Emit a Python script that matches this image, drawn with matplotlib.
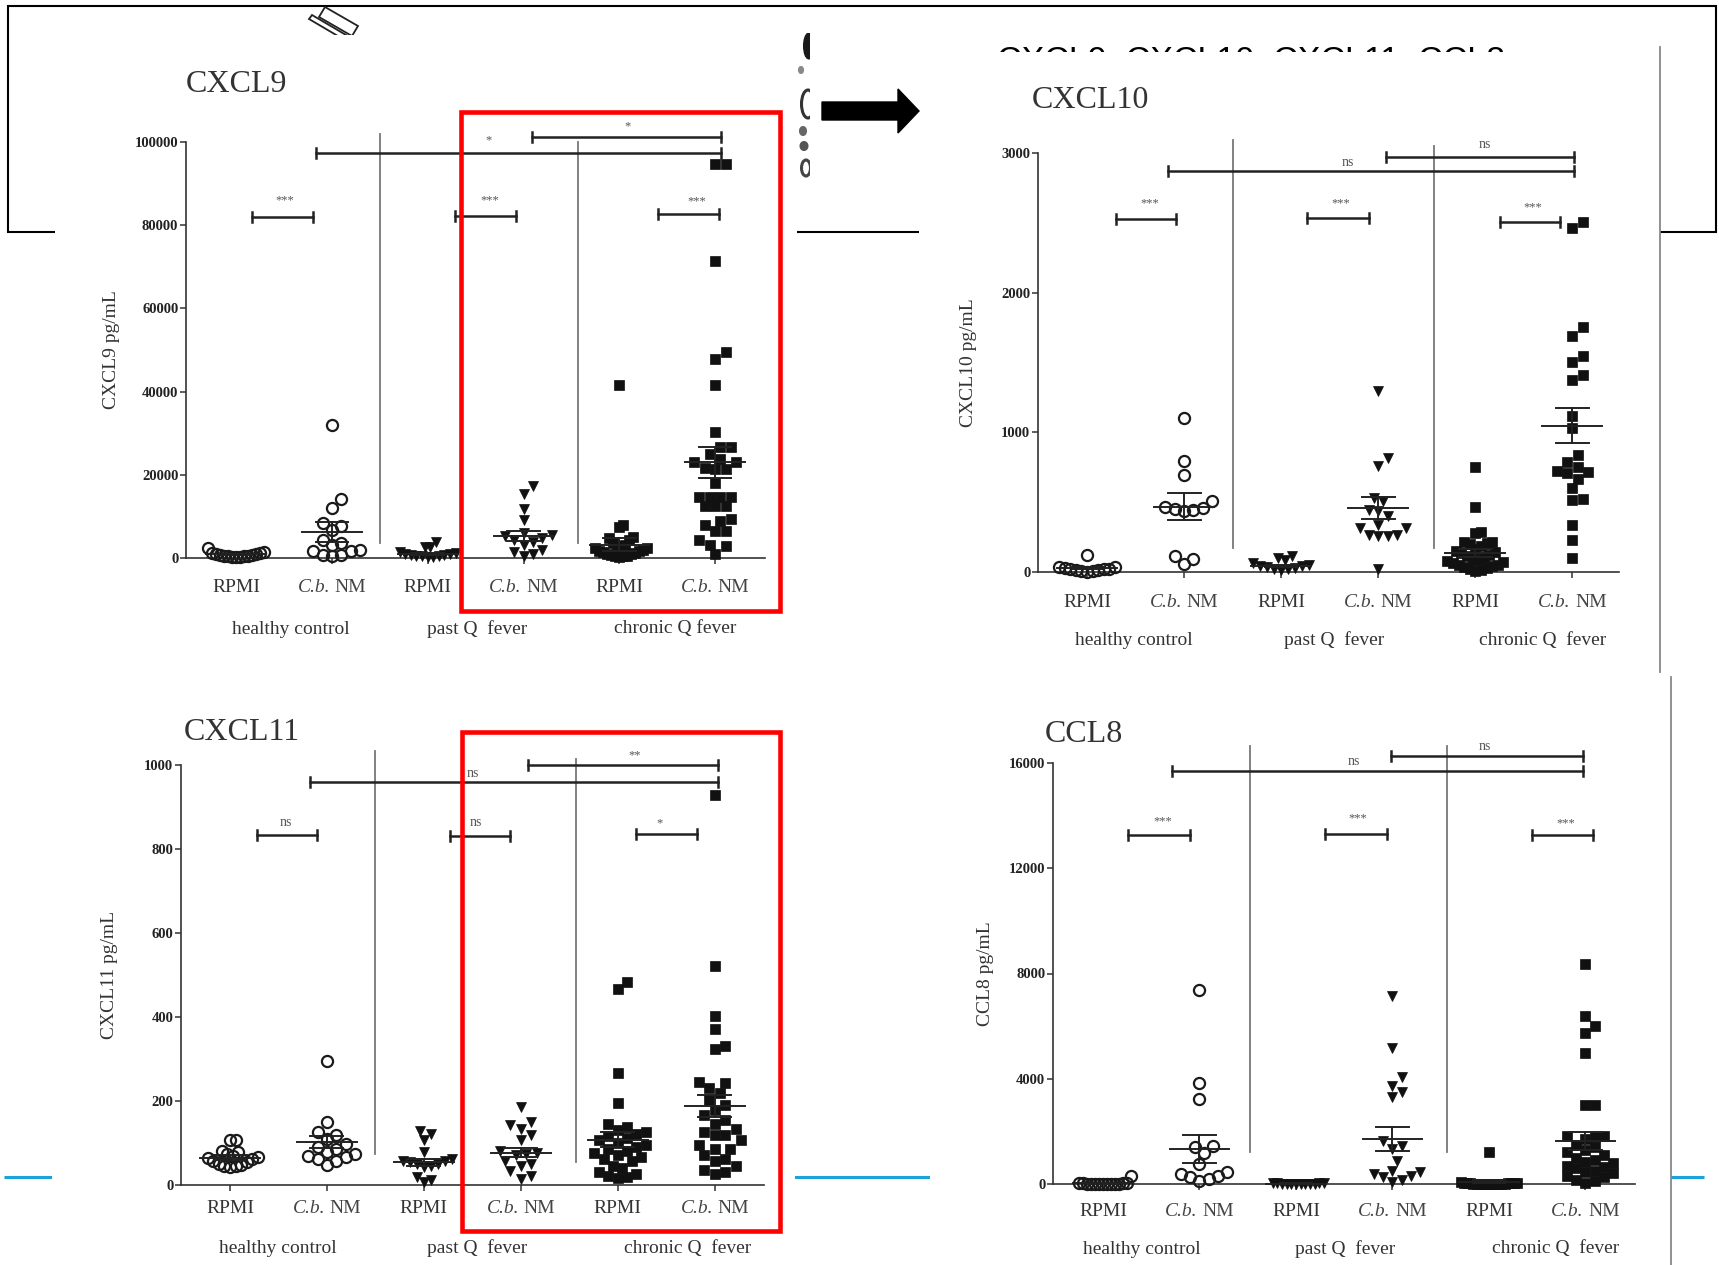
import numpy as np
import matplotlib.pyplot as plt
from matplotlib.patches import Rectangle, Polygon, Ellipse

W, H = 1719, 1265

plt.rcParams['font.family'] = ['Liberation Serif', 'DejaVu Serif']

# ---- data (pg/mL) ----
categories = ['RPMI', 'C.b. NM', 'RPMI', 'C.b. NM', 'RPMI', 'C.b. NM']
markers = ['o', 'o', 'v', 'v', 's', 's']

cxcl9_hc_rpmi = [2400, 1500, 1300, 1100, 1000, 900, 800, 700, 600, 600, 500, 400, 300, 300, 200]
cxcl9_hc_cbnm = [32000, 14200, 12000, 8400, 7600, 6800, 4400, 3600, 3200, 2000, 1600, 1600, 800, 800, 400]
cxcl9_past_rpmi = [3900, 2600, 2600, 1500, 1200, 1000, 900, 800, 700, 600, 500, 400, 300, 200]
cxcl9_past_cbnm = [17400, 15400, 11800, 9200, 6000, 5600, 5200, 4800, 4400, 3900, 3200, 2000, 1500, 1000, 500]
cxcl9_chr_rpmi = [41700, 8000, 7400, 5000, 4800, 4400, 3600, 3200, 3000, 2800, 2500, 2400, 2000, 1800,
                  1600, 1500, 1200, 1000, 900, 800, 600, 500, 400, 300]
cxcl9_chr_cbnm = [94600, 94600, 71300, 49400, 47900, 41700, 30300, 26800, 26800, 25100, 23800, 23100,
                  23100, 21600, 21400, 21400, 18000, 14700, 14700, 14700, 14700, 12400, 12400, 12400,
                  9400, 9000, 8000, 6600, 6500, 4400, 3200, 2800, 1000]
cxcl9_mean = [900, 6250, 1000, 5200, 3200, 23000]
cxcl9_sem = [150, 2300, 300, 1200, 1600, 3800]

cxcl10_hc_rpmi = [115, 35, 30, 25, 20, 20, 15, 10, 10, 5, 5, 0]
cxcl10_hc_cbnm = [1101, 790, 694, 503, 464, 455, 448, 443, 431, 113, 89, 53]
cxcl10_past_rpmi = [108, 96, 84, 60, 48, 40, 36, 31, 24, 20, 15, 10]
cxcl10_past_cbnm = [1293, 814, 759, 527, 503, 443, 431, 395, 335, 311, 311, 263, 263, 251, 251, 17]
cxcl10_chr_rpmi = [747, 462, 282, 275, 215, 210, 205, 200, 180, 160, 150, 140, 130, 120, 110, 100,
                   90, 80, 75, 70, 60, 50, 45, 40, 30, 25, 20, 10, 5]
cxcl10_chr_cbnm = [2502, 2459, 1752, 1688, 1544, 1501, 1412, 1372, 1113, 1029, 838, 785, 747, 723,
                   711, 706, 665, 598, 519, 515, 335, 227, 96]
cxcl10_mean = [25, 465, 41, 455, 132, 1046]
cxcl10_sem = [10, 98, 8, 77, 30, 128]

cxcl11_hc_rpmi = [107, 105, 80, 77, 72, 68, 65, 62, 60, 57, 53, 49, 47, 45, 43, 42]
cxcl11_hc_cbnm = [295, 149, 125, 117, 109, 97, 89, 85, 77, 73, 69, 65, 60, 57, 47]
cxcl11_past_rpmi = [127, 121, 105, 77, 61, 57, 55, 53, 50, 48, 45, 41, 18, 10, 6]
cxcl11_past_cbnm = [185, 149, 141, 133, 117, 105, 80, 75, 72, 70, 57, 49, 45, 33, 21, 14]
cxcl11_chr_rpmi = [482, 466, 265, 195, 145, 137, 129, 125, 120, 115, 110, 105, 100, 95, 90, 85, 80,
                   75, 70, 65, 60, 55, 45, 40, 30, 25, 20, 18, 15]
cxcl11_chr_cbnm = [929, 520, 402, 371, 329, 322, 245, 241, 230, 217, 201, 190, 177, 165, 153, 145,
                   133, 125, 117, 117, 105, 95, 85, 85, 70, 61, 55, 45, 35, 30, 25]
cxcl11_mean = [64, 101, 53, 76, 107, 187]
cxcl11_sem = [6, 14, 8, 11, 18, 27]

ccl8_hc_rpmi = [320, 40, 30, 20, 20, 10, 10, 5, 5, 0, 0, 0, 0, 0]
ccl8_hc_cbnm = [7380, 3830, 3230, 1460, 1390, 1170, 760, 440, 380, 320, 250, 190, 130]
ccl8_past_rpmi = [50, 40, 30, 20, 15, 10, 5, 5, 0, 0, 0, 0]
ccl8_past_cbnm = [7130, 5170, 4060, 3740, 3490, 3300, 1620, 1460, 1330, 890, 500, 440, 380, 300,
                  250, 150, 60]
ccl8_chr_rpmi = [1200, 60, 50, 40, 40, 30, 30, 20, 20, 15, 10, 10, 5, 5, 0, 0, 0, 0, 0, 0]
ccl8_chr_cbnm = [8370, 6370, 6020, 5740, 4970, 3000, 3000, 1840, 1840, 1800, 1700, 1500, 1400, 1300,
                 1200, 1100, 1000, 900, 850, 800, 700, 650, 600, 500, 450, 400, 300, 250, 150, 100, 50]
ccl8_mean = [30, 1320, 15, 1710, 80, 1650]
ccl8_sem = [20, 530, 5, 460, 60, 340]

# panel layout (pixel boxes: left, top, right, bottom of the plotting area)
panels = [
    dict(name='CXCL9', ylabel='CXCL9 pg/mL', box=(186, 142, 765, 558), xlim=(0.478, 6.52),
         yticks=[0, 20000, 40000, 60000, 80000, 100000],
         data=[cxcl9_hc_rpmi, cxcl9_hc_cbnm, cxcl9_past_rpmi, cxcl9_past_cbnm, cxcl9_chr_rpmi, cxcl9_chr_cbnm],
         mean=cxcl9_mean, sem=cxcl9_sem, title_xy=(186, 84),
         groups=['healthy control', 'past Q  fever', 'chronic Q fever'], gx=[1.57, 3.52, 5.58],
         cat_off=29, grp_off=71, ylab_off=74,
         seps=[(2.5, 0.036, 1.02), (4.57, 0.036, 1.0)],
         brackets=[(1.17, 1.80, 82000, '***', 1.51, 86000), (3.28, 3.92, 82300, '***', 3.65, 86000),
                   (5.40, 6.04, 82600, '***', 5.81, 85800), (1.83, 6.06, 97400, '*', 3.63, 100400),
                   (4.09, 6.06, 101100, '*', 5.09, 103800)]),
    dict(name='CXCL10', ylabel='CXCL10 pg/mL', box=(1038, 153, 1619, 571.5), xlim=(0.495, 6.48),
         yticks=[0, 1000, 2000, 3000],
         data=[cxcl10_hc_rpmi, cxcl10_hc_cbnm, cxcl10_past_rpmi, cxcl10_past_cbnm, cxcl10_chr_rpmi, cxcl10_chr_cbnm],
         mean=cxcl10_mean, sem=cxcl10_sem, title_xy=(1032, 101),
         groups=['healthy control', 'past Q  fever', 'chronic Q  fever'], gx=[1.48, 3.55, 5.69],
         cat_off=31, grp_off=69, ylab_off=70,
         seps=[(2.5, 0.056, 1.03), (4.57, 0.056, 1.017)],
         brackets=[(1.30, 1.92, 2530, '***', 1.65, 2640), (3.27, 3.90, 2537, '***', 3.61, 2640),
                   (5.25, 5.87, 2506, '***', 5.59, 2610), (1.83, 6.02, 2868, 'ns', 3.69, 2933),
                   (4.08, 6.02, 2973, 'ns', 5.10, 3064)]),
    dict(name='CXCL11', ylabel='CXCL11 pg/mL', box=(181, 765, 763.5, 1184.5), xlim=(0.494, 6.504),
         yticks=[0, 200, 400, 600, 800, 1000],
         data=[cxcl11_hc_rpmi, cxcl11_hc_cbnm, cxcl11_past_rpmi, cxcl11_past_cbnm, cxcl11_chr_rpmi, cxcl11_chr_cbnm],
         mean=cxcl11_mean, sem=cxcl11_sem, title_xy=(184, 733),
         groups=['healthy control', 'past Q  fever', 'chronic Q  fever'], gx=[1.49, 3.55, 5.72],
         cat_off=24, grp_off=64, ylab_off=71,
         seps=[(2.5, 0.072, 1.034), (4.57, 0.053, 1.014)],
         brackets=[(1.28, 1.90, 834, 'ns', 1.58, 863), (3.27, 3.89, 831, 'ns', 3.54, 863),
                   (5.19, 5.82, 836, '*', 5.43, 861), (1.83, 6.03, 960, 'ns', 3.50, 980),
                   (4.07, 6.03, 1001, '**', 5.17, 1022)]),
    dict(name='CCL8', ylabel='CCL8 pg/mL', box=(1053, 763, 1635, 1184), xlim=(0.482, 6.513),
         yticks=[0, 4000, 8000, 12000, 16000],
         data=[ccl8_hc_rpmi, ccl8_hc_cbnm, ccl8_past_rpmi, ccl8_past_cbnm, ccl8_chr_rpmi, ccl8_chr_cbnm],
         mean=ccl8_mean, sem=ccl8_sem, title_xy=(1045, 735),
         groups=['healthy control', 'past Q  fever', 'chronic Q  fever'], gx=[1.40, 3.51, 5.69],
         cat_off=28, grp_off=65, ylab_off=68,
         seps=[(2.52, 0.075, 1.04), (4.57, 0.075, 1.04)],
         brackets=[(1.26, 1.90, 13250, '***', 1.62, 13800), (3.30, 3.94, 13290, '***', 3.64, 13900),
                   (5.45, 6.08, 13250, '***', 5.80, 13700), (1.71, 5.97, 15690, 'ns', 3.60, 16040),
                   (3.98, 5.97, 16260, 'ns', 4.96, 16640)]),
]


def swarm(vals, ppx_y, d, max_half):
    # simple beeswarm in pixel space, returns horizontal offsets in pixels
    ys = np.asarray(vals, float) * ppx_y
    order = np.argsort(ys, kind='stable')
    steps = [0.0]
    for k in range(1, 80):
        steps += [k * d / 2, -k * d / 2]
    px, py = [], []
    offs = np.zeros(len(ys))
    for i in order:
        for c in steps:
            if all((c - a) ** 2 + (ys[i] - b) ** 2 >= d * d for a, b in zip(px, py)):
                break
        offs[i] = c
        px.append(c)
        py.append(ys[i])
    m = np.abs(offs).max()
    if m > max_half:
        offs *= max_half / m
    return offs


fig = plt.figure(figsize=(W / 100, H / 100), dpi=100)
fig.patch.set_facecolor('white')

# background layer in pixel coordinates
bg = fig.add_axes([0, 0, 1, 1], zorder=0)
bg.set_xlim(0, W)
bg.set_ylim(H, 0)
bg.axis('off')

bg.add_patch(Rectangle((8, 6), 1708, 226, fill=False, ec='black', lw=1.5, zorder=1))
bg.plot([4, 1704], [1177, 1177], color='#1ba1db', lw=2.2, zorder=1, solid_capstyle='butt')
bg.text(997, 69, 'CXCL9, CXCL10, CXCL11, CCL8', fontsize=24.5, family='Liberation Sans',
        va='baseline', ha='left', color='black', zorder=1)

# small tilted glyph at the top
bg.add_patch(Polygon([(325, 7), (358, 26), (352, 36), (319, 17)], closed=True, fc='white', ec='#222',
                     lw=1.3, zorder=1))
bg.add_patch(Polygon([(312, 15), (346, 35), (343, 39), (309, 19)], closed=True, fc='white', ec='#222',
                     lw=1.3, zorder=1))

# cut-off picture strip beside the arrow
clip = Rectangle((798, 33), 12, 150, transform=bg.transData)
for (cx, cy, w, h, filled, col) in [(809, 46, 9, 24, True, '#1a1a1a'), (801, 70, 3, 5, True, '#888'),
                                     (808, 104, 13, 28, False, '#333'), (803, 131, 5, 7, True, '#666'),
                                     (804, 146, 6, 7, True, '#555'), (806, 168, 9, 16, False, '#444')]:
    e = Ellipse((cx, cy), w, h, fc=col if filled else 'none', ec=col, lw=2.2, zorder=1)
    bg.add_patch(e)
    e.set_clip_path(clip)

# white panel backgrounds
for (l, t, r, b) in [(55, 35, 797, 660), (919, 52, 1660, 672), (52, 660, 795, 1265), (930, 677, 1671, 1265)]:
    bg.add_patch(Rectangle((l, t), r - l, b - t, fc='white', ec='none', zorder=2))
bg.plot([1660, 1660], [47, 672], color='#888', lw=1.3, zorder=3)
bg.plot([1671, 1671], [677, 1265], color='#888', lw=1.3, zorder=3)

# arrow
bg.add_patch(Polygon([(822, 102), (898, 102), (898, 89), (919, 111), (898, 133), (898, 120), (822, 120)],
                     closed=True, fc='black', ec='black', zorder=3))

for p in panels:
    left, top, right, bottom = p['box']
    ax = fig.add_axes([left / W, 1 - bottom / H, (right - left) / W, (bottom - top) / H], zorder=5)
    ax.set_facecolor('none')
    x0, x1 = p['xlim']
    ymax = p['yticks'][-1]
    ax.set_xlim(x0, x1)
    ax.set_ylim(0, ymax)
    ppx_x = (right - left) / (x1 - x0)
    ppx_y = (bottom - top) / ymax

    for i, vals in enumerate(p['data']):
        mk = markers[i]
        if mk == 'o':
            offs = swarm(vals, ppx_y, 11.5, 28)
            style = dict(ms=8, mfc='none', mec='#1a1a1a', mew=1.6)
        elif mk == 'v':
            offs = swarm(vals, ppx_y, 10.5, 28)
            style = dict(ms=7.5, mfc='#111', mec='#111', mew=0.5)
        else:
            offs = swarm(vals, ppx_y, 10.5, 28)
            style = dict(ms=6.8, mfc='#111', mec='#111', mew=0.5)
        xc = i + 1
        ax.plot(xc + offs / ppx_x, vals, ls='none', marker=mk, clip_on=False, zorder=3, **style)
        m, s = p['mean'][i], p['sem'][i]
        ax.plot([xc - 0.31, xc + 0.31], [m, m], color='#222', lw=1.4, zorder=4, clip_on=False)
        ax.plot([xc, xc], [m - s, m + s], color='#222', lw=1.4, zorder=4, clip_on=False)
        for yy in (m - s, m + s):
            ax.plot([xc - 0.17, xc + 0.17], [yy, yy], color='#222', lw=1.4, zorder=4, clip_on=False)

    for (sx, lo, hi) in p['seps']:
        ax.axvline(sx, ymin=lo, ymax=hi, color='#777', lw=1.3, clip_on=False, zorder=2)

    cap = 5 / ppx_y
    for (bx1, bx2, by, lab, lx, ly) in p['brackets']:
        ax.plot([bx1, bx2], [by, by], color='#222', lw=1.8, clip_on=False, zorder=4)
        for bx in (bx1, bx2):
            ax.plot([bx, bx], [by - cap, by + cap], color='#222', lw=1.8, clip_on=False, zorder=4)
        ax.text(lx, ly, lab, ha='center', va='center', fontsize=10 if lab == 'ns' else 9,
                color='#555', zorder=4)

    for side in ('top', 'right'):
        ax.spines[side].set_visible(False)
    for side in ('left', 'bottom'):
        ax.spines[side].set_color('#333')
        ax.spines[side].set_linewidth(1.2)
    ax.set_yticks(p['yticks'])
    ax.set_yticklabels([str(t) for t in p['yticks']], fontsize=10.5, fontweight='bold', color='#222')
    ax.set_xticks(range(1, 7))
    ax.set_xticklabels([])
    ax.tick_params(axis='both', direction='out', length=4, width=1.1, color='#333', pad=1.5)

    for i, lab in enumerate(categories):
        dy = -p['cat_off'] * 0.72
        if lab.startswith('C.b.'):
            # italic genus abbreviation followed by upright "NM"
            ax.annotate('C.b.', xy=(i + 1, 0), xycoords=('data', 'axes fraction'),
                        xytext=(-1.2, dy), textcoords='offset points', style='italic',
                        ha='right', va='center', fontsize=14, color='#444')
            ax.annotate('NM', xy=(i + 1, 0), xycoords=('data', 'axes fraction'),
                        xytext=(1.8, dy), textcoords='offset points',
                        ha='left', va='center', fontsize=14, color='#444')
        else:
            ax.annotate(lab, xy=(i + 1, 0), xycoords=('data', 'axes fraction'),
                        xytext=(0, dy), textcoords='offset points',
                        ha='center', va='center', fontsize=14, color='#333')
    for gx, g in zip(p['gx'], p['groups']):
        ax.annotate(g, xy=(gx, 0), xycoords=('data', 'axes fraction'),
                    xytext=(0, -p['grp_off'] * 0.72), textcoords='offset points',
                    ha='center', va='center', fontsize=14, color='#333')
    ax.text(-p['ylab_off'] / (right - left), 0.5, p['ylabel'], transform=ax.transAxes,
            rotation=90, ha='center', va='center', fontsize=14, color='#333')

# overlay: titles and red highlight boxes
ov = fig.add_axes([0, 0, 1, 1], zorder=10)
ov.set_xlim(0, W)
ov.set_ylim(H, 0)
ov.axis('off')
ov.patch.set_alpha(0)
for p in panels:
    tx, ty = p['title_xy']
    ov.text(tx, ty, p['name'], fontsize=23, color='#333', ha='left', va='center')
ov.add_patch(Rectangle((461, 111.5), 319, 499, fill=False, ec='#ff0000', lw=3.3))
ov.add_patch(Rectangle((462, 732), 318, 499, fill=False, ec='#ff0000', lw=3.3))

fig.savefig('out.png', dpi=100, facecolor='white')
